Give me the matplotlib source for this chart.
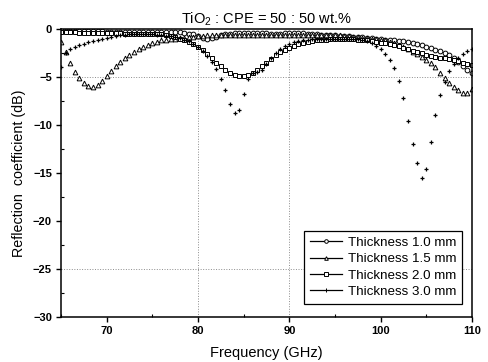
import numpy as np
import matplotlib
matplotlib.use('Agg')
import matplotlib.pyplot as plt
from matplotlib.lines import Line2D
from matplotlib.ticker import MultipleLocator

plt.rcParams['font.family'] = ['Liberation Sans', 'DejaVu Sans']
plt.rcParams['mathtext.default'] = 'regular'

# frequency grid (GHz), 0.5 GHz steps from 65 to 110
freq = np.arange(65, 110.01, 0.5)

# reflection coefficient (dB)
r_10 = [-0.15, -0.2, -0.2, -0.2, -0.2, -0.2, -0.2, -0.2, -0.2, -0.25,
        -0.3, -0.3, -0.3, -0.3, -0.3, -0.3, -0.3, -0.3, -0.3, -0.3,
        -0.3, -0.3, -0.3, -0.3, -0.3, -0.3, -0.35, -0.4, -0.5, -0.55,
        -0.7, -0.9, -1.0, -0.95, -0.8, -0.65, -0.55, -0.5, -0.45, -0.45,
        -0.45, -0.45, -0.45, -0.45, -0.45, -0.45, -0.5, -0.5, -0.5, -0.45,
        -0.45, -0.45, -0.45, -0.45, -0.5, -0.55, -0.55, -0.6, -0.6, -0.6,
        -0.65, -0.7, -0.7, -0.75, -0.8, -0.8, -0.85, -0.9, -0.95, -1.0,
        -1.05, -1.1, -1.15, -1.2, -1.25, -1.3, -1.4, -1.5, -1.6, -1.7,
        -1.85, -2.0, -2.15, -2.3, -2.5, -2.75, -3.0, -3.4, -3.9, -4.3,
        -4.6]
r_15 = [-1.4, -2.4, -3.5, -4.5, -5.1, -5.6, -5.9, -6.0, -5.8, -5.4,
        -4.9, -4.4, -3.9, -3.4, -3.0, -2.7, -2.4, -2.1, -1.9, -1.7,
        -1.5, -1.35, -1.2, -1.1, -1.05, -1.0, -0.95, -0.9, -0.85, -0.8,
        -0.75, -0.7, -0.65, -0.6, -0.6, -0.6, -0.6, -0.6, -0.6, -0.6,
        -0.6, -0.6, -0.6, -0.6, -0.6, -0.6, -0.6, -0.6, -0.6, -0.6,
        -0.6, -0.6, -0.6, -0.6, -0.6, -0.6, -0.6, -0.6, -0.6, -0.6,
        -0.65, -0.65, -0.7, -0.75, -0.8, -0.85, -0.9, -0.95, -1.0, -1.05,
        -1.1, -1.2, -1.35, -1.5, -1.7, -1.9, -2.1, -2.35, -2.6, -2.9,
        -3.2, -3.5, -4.0, -4.6, -5.1, -5.6, -6.0, -6.4, -6.7, -6.7,
        -6.3]
r_20 = [-0.3, -0.35, -0.35, -0.35, -0.4, -0.4, -0.4, -0.4, -0.4, -0.4,
        -0.45, -0.45, -0.45, -0.45, -0.5, -0.5, -0.5, -0.5, -0.5, -0.5,
        -0.5, -0.5, -0.5, -0.6, -0.7, -0.85, -1.0, -1.2, -1.4, -1.6,
        -1.9, -2.2, -2.6, -3.0, -3.5, -3.9, -4.3, -4.6, -4.8, -4.9,
        -4.9, -4.8, -4.6, -4.3, -3.9, -3.5, -3.1, -2.7, -2.4, -2.2,
        -2.0, -1.8, -1.6, -1.45, -1.35, -1.25, -1.2, -1.15, -1.1, -1.05,
        -1.05, -1.05, -1.05, -1.05, -1.05, -1.1, -1.15, -1.2, -1.3, -1.35,
        -1.45, -1.5, -1.6, -1.7, -1.8, -1.95, -2.1, -2.25, -2.4, -2.55,
        -2.7, -2.85, -2.95, -3.0, -3.05, -3.1, -3.2, -3.35, -3.5, -3.65,
        -3.8]
r_30 = [-4.0, -2.5, -2.1, -1.9, -1.7, -1.6, -1.4, -1.3, -1.1, -1.0,
        -0.9, -0.8, -0.7, -0.65, -0.6, -0.55, -0.5, -0.5, -0.5, -0.5,
        -0.55, -0.6, -0.65, -0.7, -0.75, -0.8, -0.9, -1.1, -1.3, -1.6,
        -1.9, -2.3, -2.8, -3.4, -4.2, -5.2, -6.4, -7.8, -8.8, -8.4,
        -6.8, -5.2, -4.6, -4.5, -4.3, -3.6, -3.0, -2.5, -2.1, -1.8,
        -1.6, -1.4, -1.25, -1.15, -1.1, -1.05, -1.0, -1.0, -1.0, -1.0,
        -1.0, -1.0, -1.0, -1.0, -1.0, -1.05, -1.15, -1.3, -1.5, -1.8,
        -2.1, -2.6, -3.2, -4.1, -5.4, -7.2, -9.6, -12.0, -14.0, -15.5,
        -14.6, -11.8, -9.0, -6.9, -5.5, -4.4, -3.6, -3.0, -2.6, -2.3,
        -2.1]

labels = ['Thickness 1.0 mm', 'Thickness 1.5 mm',
          'Thickness 2.0 mm', 'Thickness 3.0 mm']
markers = ['o', '^', 's', '+']

fig = plt.figure(figsize=(4.89, 3.62), dpi=100)
ax = fig.add_axes([0.1247, 0.1243, 0.8405, 0.7957])

# sparse dotted guide lines as in the scan
for yv in [-5, -25]:
    ax.axhline(yv, color='0.55', ls=':', lw=0.7, zorder=0)
for xv in [80, 90]:
    ax.axvline(xv, color='0.55', ls=':', lw=0.7, zorder=0)

handles = []
for r, m, lab in zip([r_10, r_15, r_20, r_30], markers, labels):
    if m == '+':
        ax.plot(freq, r, ls='none', marker=m, ms=3.4, mew=0.9, color='k')
    else:
        ax.plot(freq, r, ls='none', marker=m, ms=3.4, mew=0.7,
                mfc='white', mec='k')
    handles.append(Line2D([], [], color='k', lw=0.9, marker=m, ms=2.6,
                          mew=0.7, mfc='white', mec='k', label=lab))

ax.set_xlim(65, 110)
ax.set_ylim(-30, 0)
ax.xaxis.set_major_locator(MultipleLocator(10))
ax.xaxis.set_minor_locator(MultipleLocator(5))
ax.yaxis.set_major_locator(MultipleLocator(5))
ax.yaxis.set_minor_locator(MultipleLocator(2.5))
ax.tick_params(which='major', direction='out', length=3.5, width=1,
               labelsize=8, pad=3)
ax.tick_params(which='minor', direction='in', length=2.5, width=0.8)
for lab in ax.get_xticklabels() + ax.get_yticklabels():
    lab.set_fontweight('bold')
for sp in ax.spines.values():
    sp.set_linewidth(1.1)

ax.set_xlabel('Frequency (GHz)', fontsize=10.5, labelpad=7)
ax.set_ylabel('Reflection  coefficient (dB)', fontsize=10.3, labelpad=5)
ax.set_title('TiO$_2$ : CPE = 50 : 50 wt.%', fontsize=10.5, pad=4)

leg = ax.legend(handles=handles, loc='lower right',
                bbox_to_anchor=(0.976, 0.045), borderaxespad=0,
                fontsize=9.6, frameon=True, fancybox=False,
                edgecolor='k', framealpha=1, handlelength=2.4,
                handletextpad=0.45, labelspacing=0.3, borderpad=0.45)
leg.get_frame().set_linewidth(0.9)

plt.savefig('out.png', dpi=100)
